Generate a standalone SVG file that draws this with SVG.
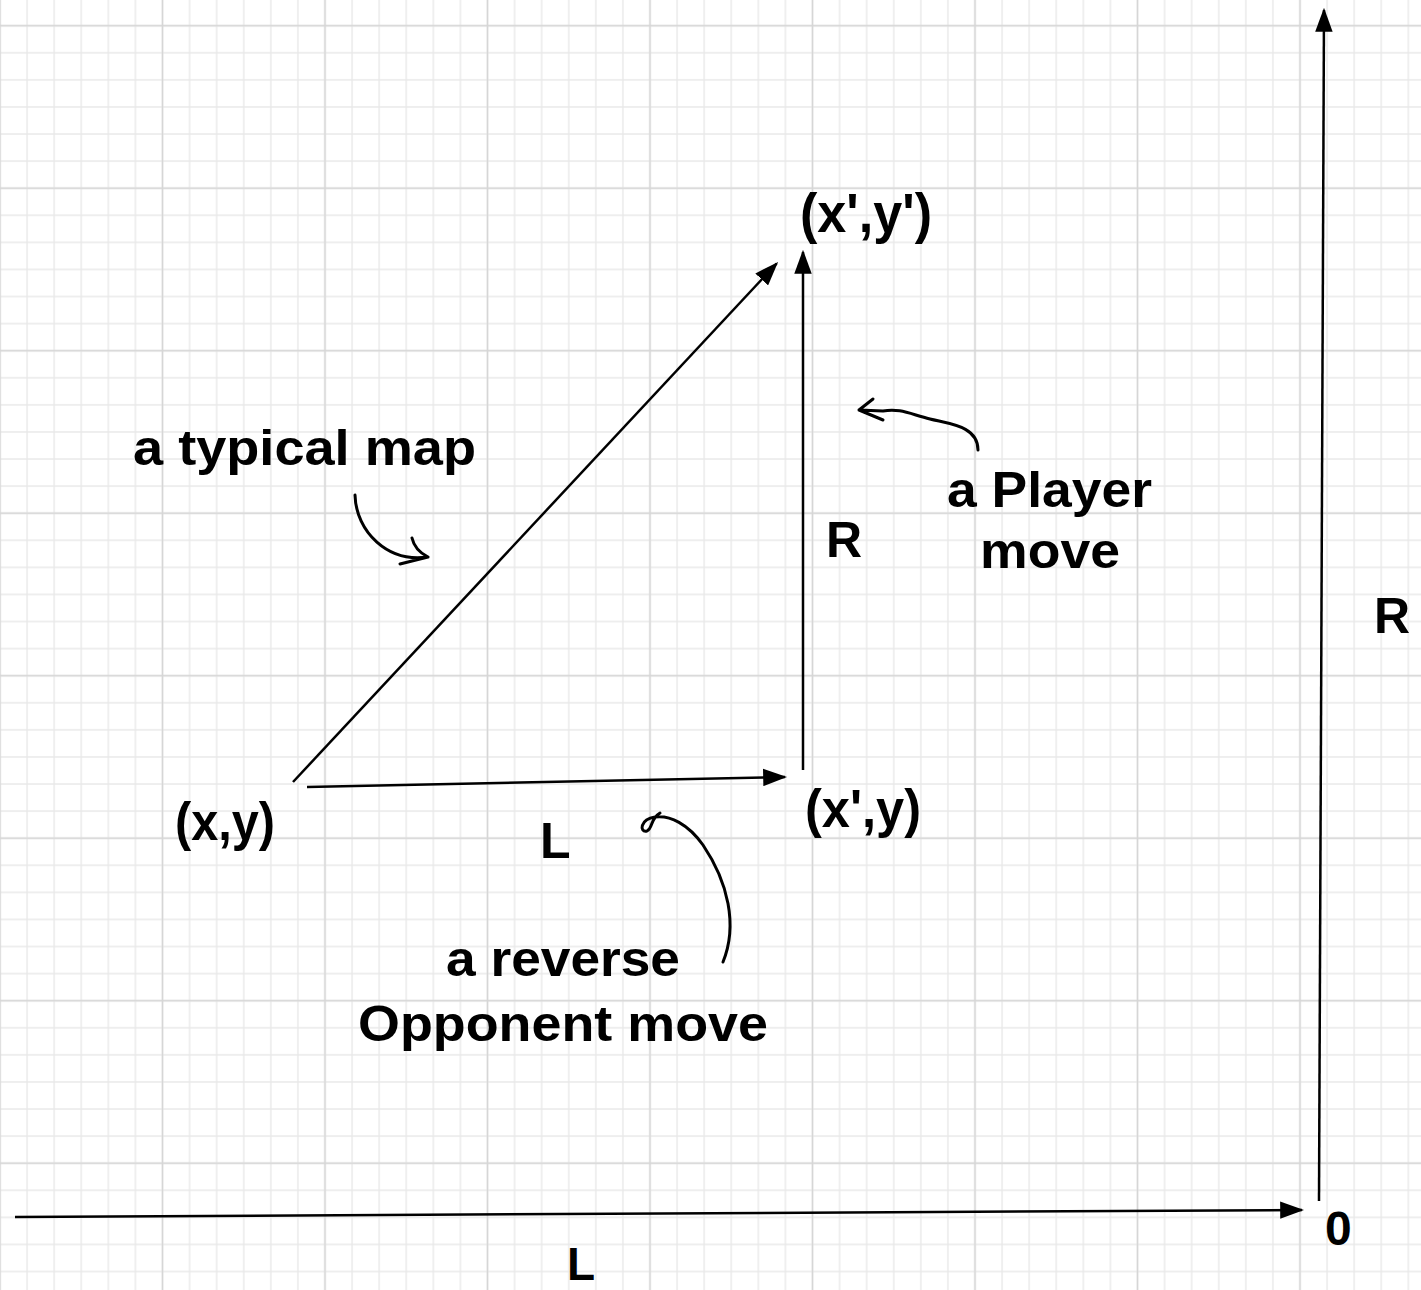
<svg xmlns="http://www.w3.org/2000/svg" width="1421" height="1290" viewBox="0 0 1421 1290">
<style>
.t{font-family:"Liberation Sans",Arial,Helvetica,sans-serif;font-weight:bold;fill:#000}
.ln{stroke:#000;stroke-width:2.5;fill:none}
.hd{stroke:#000;stroke-width:3;fill:none;stroke-linecap:round;stroke-linejoin:round}
</style>
<defs>
<pattern id="minor" patternUnits="userSpaceOnUse" width="27.0833" height="27.0833" x="-13.5417" y="12.158">
<path d="M13.5417,0 V27.0833 M0,13.5417 H27.0833" stroke="#e9e9e9" stroke-width="1.4" fill="none"/>
</pattern>
<pattern id="major" patternUnits="userSpaceOnUse" width="162.5" height="162.5" x="-81.25" y="-55.55">
<path d="M81.25,0 V162.5 M0,81.25 H162.5" stroke="#d6d6d6" stroke-width="1.5" fill="none"/>
</pattern>
<marker id="ah" markerUnits="userSpaceOnUse" markerWidth="24" markerHeight="18" refX="20" refY="8" orient="auto" viewBox="0 0 22 16">
<path d="M0,0 L22,8 L0,16 z" fill="#000"/>
</marker>
</defs>
<rect width="1421" height="1290" fill="#fff"/>
<rect width="1421" height="1290" fill="url(#minor)"/>
<rect width="1421" height="1290" fill="url(#major)"/>

<g id="connectors">
<line class="ln" x1="293" y1="782" x2="776.6" y2="263.5" marker-end="url(#ah)"/>
<line class="ln" x1="307" y1="787" x2="785" y2="777" marker-end="url(#ah)"/>
<line class="ln" x1="803" y1="770" x2="803" y2="252" marker-end="url(#ah)"/>
<line class="ln" x1="1319" y1="1201" x2="1324" y2="10" marker-end="url(#ah)"/>
<line class="ln" x1="15" y1="1217" x2="1302" y2="1210" marker-end="url(#ah)"/>
<path class="hd" d="M355,495 C356,532 388,563 428,557 M412,538 C414,547 420,553 428,557 M400,564 L428,557"/>
<path class="hd" d="M978,450 C978,426 950,424 930,419 C910,414 900,408 883,411 L859,410 M873,399 L859,410 L883,420"/>
<path class="hd" d="M723,962 C738,925 728,882 703,845 C688,824 670,815 655,817 C640,819 639,833 647,831 C653,828 650,819 660,813"/>
</g>

<g id="node-xy-prime-prime"><text class="t" x="866" y="232" font-size="55" text-anchor="middle" textLength="132" lengthAdjust="spacingAndGlyphs">(x',y')</text></g>
<g id="node-xy-prime"><text class="t" x="863" y="827" font-size="53" text-anchor="middle" textLength="116" lengthAdjust="spacingAndGlyphs">(x',y)</text></g>
<g id="node-xy"><text class="t" x="225" y="840" font-size="53" text-anchor="middle" textLength="100" lengthAdjust="spacingAndGlyphs">(x,y)</text></g>
<g id="label-typical-map"><text class="t" x="304.5" y="465" font-size="50" text-anchor="middle" textLength="343" lengthAdjust="spacingAndGlyphs">a typical map</text></g>
<g id="label-R-mid"><text class="t" x="826" y="557" font-size="50">R</text></g>
<g id="label-player"><text class="t" x="1049.5" y="507" font-size="50" text-anchor="middle" textLength="205" lengthAdjust="spacingAndGlyphs">a Player</text>
<text class="t" x="1050" y="568" font-size="50" text-anchor="middle" textLength="140" lengthAdjust="spacingAndGlyphs">move</text></g>
<g id="label-L-mid"><text class="t" x="540" y="858" font-size="50">L</text></g>
<g id="label-opponent"><text class="t" x="563" y="976" font-size="50" text-anchor="middle" textLength="234" lengthAdjust="spacingAndGlyphs">a reverse</text>
<text class="t" x="563" y="1041" font-size="50" text-anchor="middle" textLength="410" lengthAdjust="spacingAndGlyphs">Opponent move</text></g>
<g id="label-R-axis"><text class="t" x="1374" y="633" font-size="50">R</text></g>
<g id="label-zero"><text class="t" x="1325" y="1245" font-size="48">0</text></g>
<g id="label-L-axis"><text class="t" x="567" y="1280" font-size="46">L</text></g>
</svg>
